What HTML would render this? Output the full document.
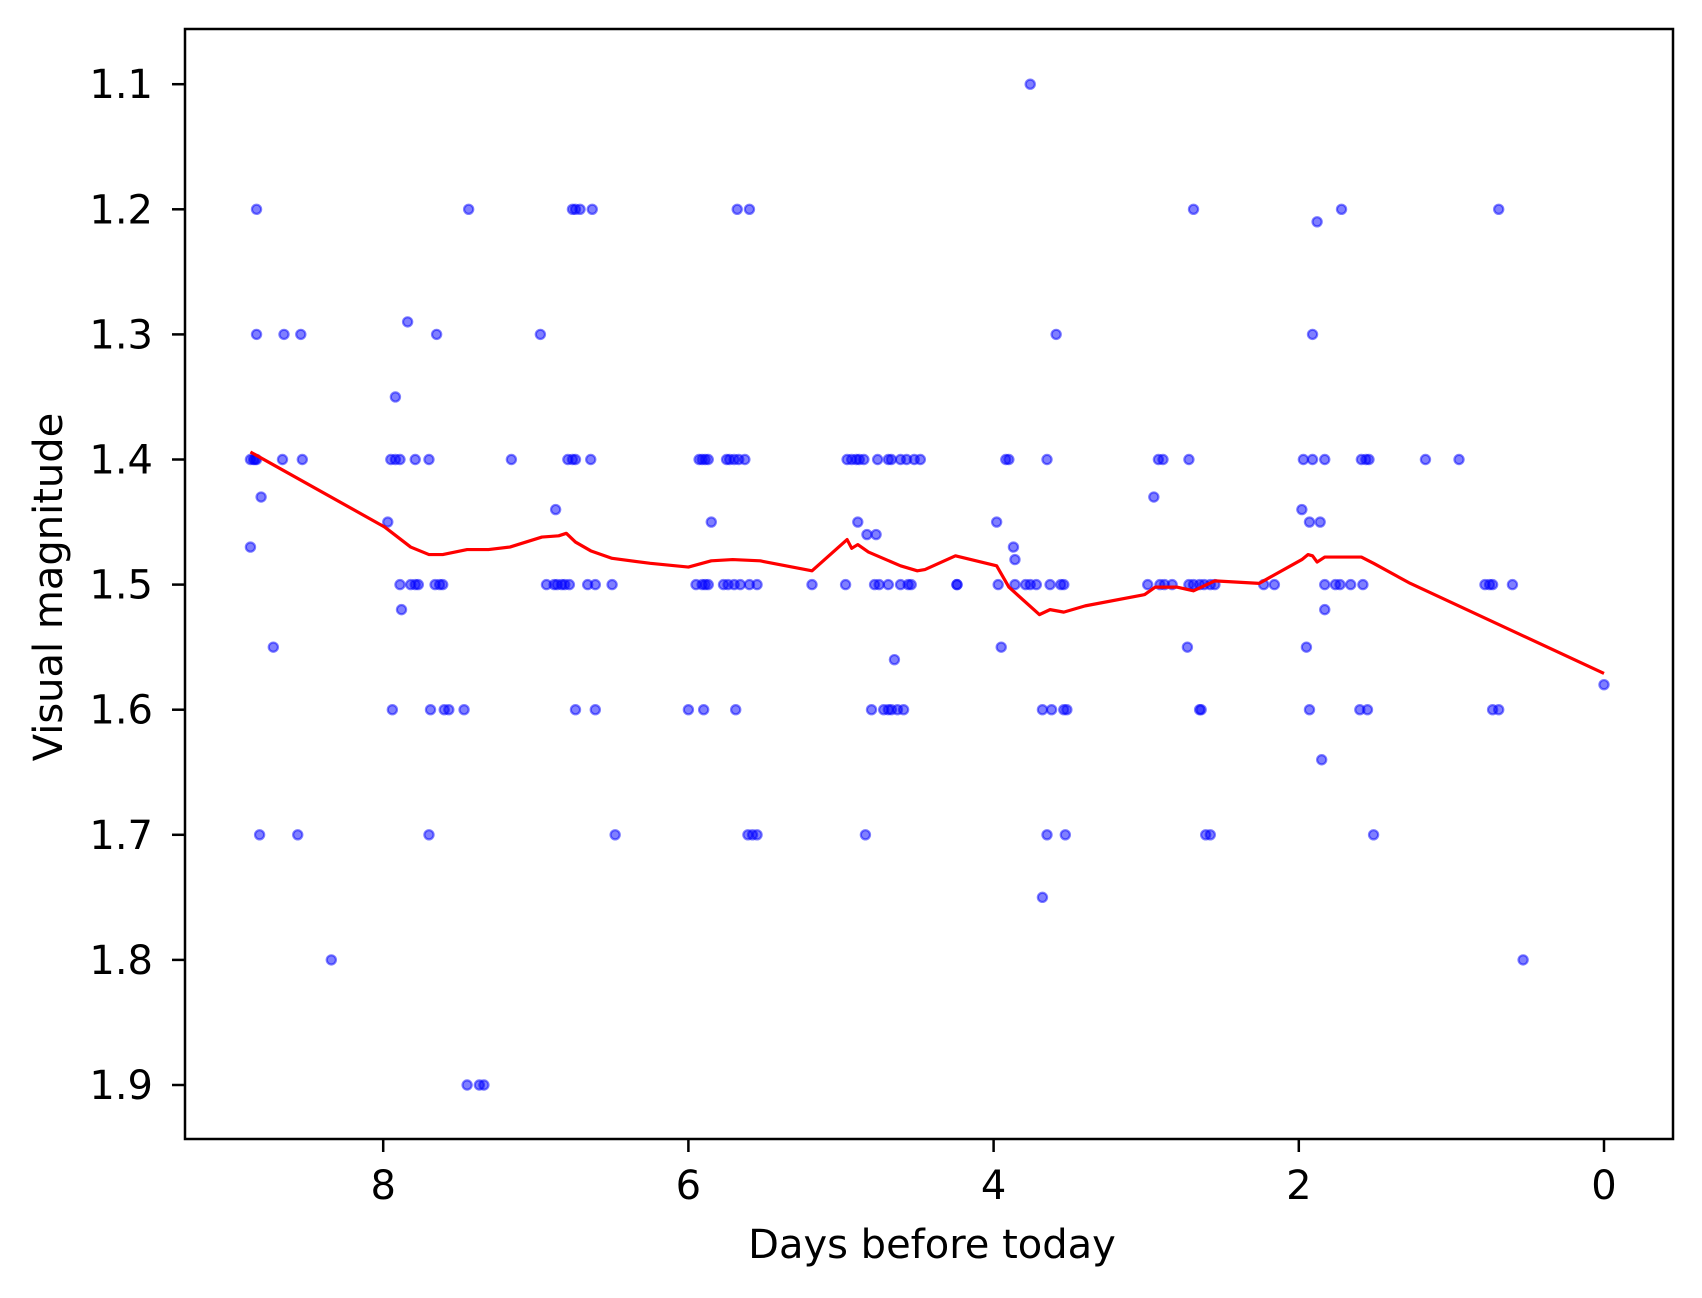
<!DOCTYPE html>
<html><head><meta charset="utf-8"><style>
html,body{margin:0;padding:0;background:#fff}
svg{display:block;font-family:"DejaVu Sans","Liberation Sans",sans-serif}
</style></head><body>
<svg id="chart" width="1702" height="1298" viewBox="0 0 1702 1298" xmlns="http://www.w3.org/2000/svg">
<rect x="0" y="0" width="1702" height="1298" fill="#fff"/>
<g id="ticks"></g>
<g id="dots"></g>
<g id="line"></g>
<rect x="185" y="29" width="1488" height="1110" fill="none" stroke="#000" stroke-width="2.5"/>
<text x="932" y="1258" font-size="40" text-anchor="middle">Days before today</text>
<text transform="translate(62,587) rotate(-90)" font-size="40" text-anchor="middle">Visual magnitude</text>
</svg>
<script>
const xTicks = [0, 2, 4, 6, 8];
const yTicks = [1.1, 1.2, 1.3, 1.4, 1.5, 1.6, 1.7, 1.8, 1.9];
const obsMagLevels = [1.10, 1.20, 1.21, 1.29, 1.30, 1.35, 1.40, 1.43, 1.44, 1.45, 1.46, 1.47, 1.48, 1.50, 1.52, 1.55, 1.56, 1.58, 1.60, 1.64, 1.70, 1.75, 1.80, 1.90];
const obsDaysByLevel = [
[3.76],
[8.83,7.44,6.76,6.74,6.71,6.63,5.68,5.60,2.69,1.72,0.69],
[1.88],
[7.84],
[8.83,8.65,8.54,7.65,6.97,3.59,1.91],
[7.92],
[8.87,8.85,8.84,8.83,8.66,8.53,7.95,7.92,7.89,7.79,7.70,7.16,6.79,6.76,6.74,6.64,5.93,5.91,5.89,5.87,5.75,5.73,5.70,5.67,5.63,4.96,4.93,4.90,4.88,4.85,4.76,4.69,4.67,4.61,4.57,4.52,4.48,3.92,3.90,3.65,2.92,2.89,2.72,1.97,1.91,1.83,1.59,1.56,1.54,1.17,0.95],
[8.80,2.95],
[6.87,1.98],
[7.97,5.85,4.89,3.98,1.93,1.86],
[4.83,4.77],
[8.87,3.87],
[3.86],
[7.89,7.82,7.79,7.77,7.66,7.63,7.61,6.93,6.88,6.86,6.83,6.81,6.78,6.66,6.61,6.50,5.95,5.91,5.89,5.87,5.77,5.74,5.70,5.66,5.60,5.55,5.19,4.97,4.78,4.75,4.69,4.61,4.56,4.54,4.24,4.24,3.97,3.86,3.79,3.76,3.72,3.63,3.56,3.54,2.99,2.91,2.88,2.83,2.72,2.69,2.65,2.62,2.58,2.55,2.23,2.16,1.83,1.76,1.73,1.66,1.58,0.78,0.75,0.73,0.60],
[7.88,1.83],
[8.72,3.95,2.73,1.95],
[4.65],
[0],
[7.94,7.69,7.60,7.57,7.47,6.74,6.61,6.00,5.90,5.69,4.80,4.72,4.69,4.67,4.63,4.59,3.68,3.62,3.54,3.52,2.65,2.64,1.93,1.60,1.55,0.73,0.69],
[1.85],
[8.81,8.56,7.70,6.48,5.61,5.58,5.55,4.84,3.65,3.53,2.61,2.58,1.51],
[3.68],
[8.34,0.53],
[7.45,7.37,7.34]
];
const meanDays = [8.87,7.99,7.82,7.70,7.61,7.45,7.31,7.17,6.96,6.85,6.80,6.74,6.64,6.50,6.25,6.00,5.85,5.71,5.53,5.19,4.96,4.93,4.89,4.82,4.61,4.50,4.45,4.25,3.98,3.90,3.70,3.63,3.54,3.40,3.01,2.94,2.80,2.69,2.55,2.26,1.98,1.94,1.91,1.88,1.83,1.59,1.51,1.27,0];
const meanMag = [1.394,1.454,1.470,1.476,1.476,1.472,1.472,1.470,1.462,1.461,1.459,1.466,1.473,1.479,1.483,1.486,1.481,1.480,1.481,1.489,1.464,1.471,1.468,1.474,1.485,1.489,1.488,1.477,1.485,1.502,1.524,1.520,1.522,1.517,1.508,1.502,1.502,1.505,1.497,1.499,1.480,1.476,1.477,1.482,1.478,1.478,1.483,1.499,1.571];

const NS = "http://www.w3.org/2000/svg";
function xs(d){ return 1604 - d * 152.6; }
function ys(m){ return 84.2 + (m - 1.1) * 1251; }

const tg = document.getElementById('ticks');
xTicks.forEach(function(t){
  const l = document.createElementNS(NS, 'line');
  l.setAttribute('x1', xs(t)); l.setAttribute('x2', xs(t));
  l.setAttribute('y1', 1139); l.setAttribute('y2', 1152);
  l.setAttribute('stroke', '#000'); l.setAttribute('stroke-width', '2.5');
  
  
  tg.appendChild(l);
  const tx = document.createElementNS(NS, 'text');
  tx.setAttribute('x', xs(t)); tx.setAttribute('y', 1199);
  tx.setAttribute('font-size', '40'); tx.setAttribute('text-anchor', 'middle');
  tx.textContent = String(t);
  
  
  tg.appendChild(tx);
});
yTicks.forEach(function(t){
  const l = document.createElementNS(NS, 'line');
  l.setAttribute('x1', 172); l.setAttribute('x2', 185);
  l.setAttribute('y1', ys(t)); l.setAttribute('y2', ys(t));
  l.setAttribute('stroke', '#000'); l.setAttribute('stroke-width', '2.5');
  
  
  tg.appendChild(l);
  const tx = document.createElementNS(NS, 'text');
  tx.setAttribute('x', 153); tx.setAttribute('y', ys(t) + 14);
  tx.setAttribute('font-size', '40'); tx.setAttribute('text-anchor', 'end');
  tx.textContent = t.toFixed(1);
  
  
  tg.appendChild(tx);
});

const dg = document.getElementById('dots');
obsMagLevels.forEach(function(m, k){
  (obsDaysByLevel[k] || []).forEach(function(d){
    const c = document.createElementNS(NS, 'circle');
    c.setAttribute('cx', xs(d)); c.setAttribute('cy', ys(m));
    c.setAttribute('r', '4.6');
    c.setAttribute('fill', 'rgba(0,0,255,0.5)');
    c.setAttribute('stroke', 'rgba(0,0,255,0.5)');
    c.setAttribute('stroke-width', '2.2');
    
    
    dg.appendChild(c);
  });
});

const lg = document.getElementById('line');
const p = document.createElementNS(NS, 'polyline');
p.setAttribute('points', meanDays.map(function(d, i){ return xs(d) + ',' + ys(meanMag[i]); }).join(' '));
p.setAttribute('fill', 'none');
p.setAttribute('stroke', '#ff0000');
p.setAttribute('stroke-width', '3.2');
p.setAttribute('stroke-linejoin', 'round');


lg.appendChild(p);
</script>
</body></html>
